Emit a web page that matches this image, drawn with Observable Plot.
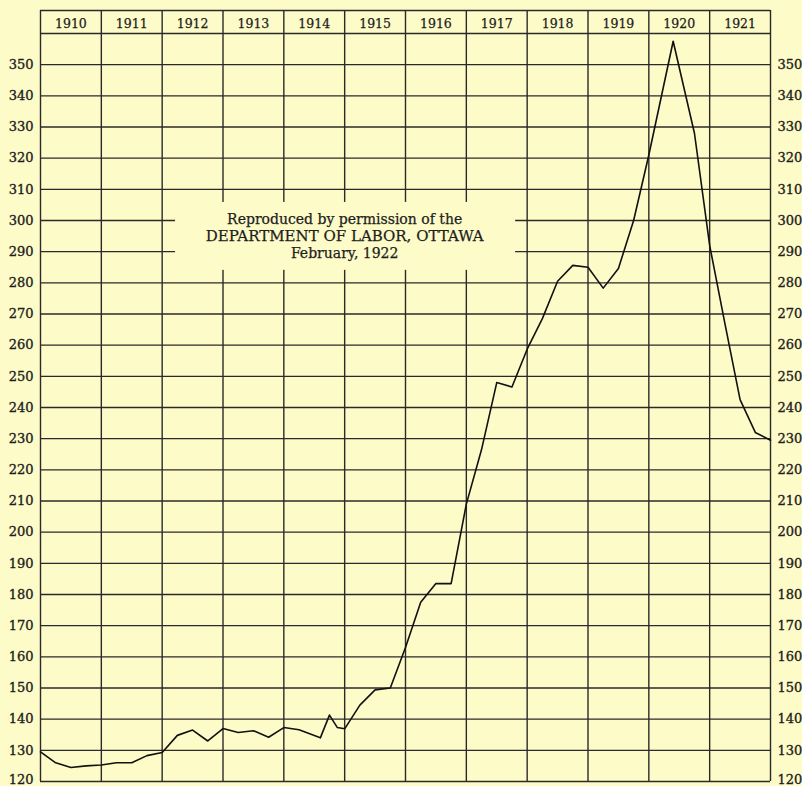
<!DOCTYPE html>
<html>
<head>
<meta charset="utf-8">
<script src="https://cdn.jsdelivr.net/npm/d3@7"></script>
<script src="https://cdn.jsdelivr.net/npm/@observablehq/plot@0.6"></script>
<style>
  html, body { margin: 0; padding: 0; background: #fdfbc8; }
  #chart svg { display: block; }
  #chart svg g[aria-label="y-axis tick label"] text { stroke: #1e1e1e; stroke-width: 0.35px; }
  #chart svg g.note text, #chart svg g.years text { stroke: #1e1e1e; stroke-width: 0.25px; }
</style>
</head>
<body>
<div id="chart"></div>
<script>
// ---- data ----
const periods = [1910, 1910.25, 1910.5, 1910.75, 1911, 1911.25, 1911.5, 1911.75,
  1912, 1912.25, 1912.5, 1912.75, 1913, 1913.25, 1913.5, 1913.75,
  1914, 1914.25, 1914.6, 1914.75, 1914.88, 1915, 1915.25, 1915.5, 1915.75,
  1916, 1916.25, 1916.5, 1916.75, 1917, 1917.25, 1917.5, 1917.75,
  1918, 1918.25, 1918.5, 1918.75, 1919, 1919.25, 1919.5, 1919.75,
  1920, 1920.4, 1920.75, 1921, 1921.25, 1921.5, 1921.75, 1922];
const indexValues = [129.5, 126, 124.5, 125, 125.3, 126, 126, 128.3,
  129.3, 134.8, 136.5, 133, 137, 135.7, 136.3, 134.2,
  137.3, 136.6, 134, 141.3, 137.3, 136.9, 144.5, 149.4, 150,
  163, 177.5, 183.5, 183.5, 209, 226.5, 248, 246.6,
  258.7, 268.5, 280.5, 285.6, 285, 278.3, 284.6, 300,
  321, 357.5, 328, 292, 267, 242.5, 232, 229.5];
const yearLabels = [1910, 1911, 1912, 1913, 1914, 1915, 1916, 1917, 1918, 1919, 1920, 1921];
const yearBounds = [1910, 1911, 1912, 1913, 1914, 1915, 1916, 1917, 1918, 1919, 1920, 1921, 1922];
const yTickLabels = [120, 130, 140, 150, 160, 170, 180, 190, 200, 210, 220, 230, 240,
  250, 260, 270, 280, 290, 300, 310, 320, 330, 340, 350];
const noteLines = ["Reproduced by permission of the", "DEPARTMENT OF LABOR, OTTAWA", "February, 1922"];

// ---- layout ----
const W = 802, H = 786;
const mTop = 33, mBottom = 5, mLeft = 40, mRight = 32;
const yMin = 120, yMax = 360;
const pxPerUnit = (H - mTop - mBottom) / (yMax - yMin);
const headerTop = yMax + (mTop - 10) / pxPerUnit;      // header band top border
const headerMid = yMax + (mTop - 23.5) / pxPerUnit;    // header label centre
const bg = "#fdfbc8";
const ink = "#1e1e1e";
const grid = "#2a2a2a";

const series = periods.map((p, i) => ({period: p, value: indexValues[i]}));
const gridRows = yTickLabels.concat([yMax, headerTop]);
const noteStyle = [
  {y: 300.3, fontSize: 14, letterSpacing: 0.6},
  {y: 295.0, fontSize: 15, letterSpacing: 1.6},
  {y: 289.3, fontSize: 14, letterSpacing: 0.6}
];

const axisOpts = {tickSize: 0, tickPadding: 7, label: null, fontSize: 13, fill: ink, tickFormat: d => String(d)};
const upperTicks = yTickLabels.filter(d => d > yMin);
const bottomTick = yTickLabels.filter(d => d === yMin);

const chart = Plot.plot({
  width: W,
  height: H,
  marginTop: mTop,
  marginBottom: mBottom,
  marginLeft: mLeft,
  marginRight: mRight,
  style: {background: bg, fontFamily: "DejaVu Serif", fontSize: "13px", color: ink},
  x: {domain: [1910, 1922], axis: null},
  y: {domain: [yMin, yMax], axis: null},
  marks: [
    Plot.axisY(upperTicks, {anchor: "left", ...axisOpts}),
    Plot.axisY(upperTicks, {anchor: "right", ...axisOpts}),
    Plot.axisY(bottomTick, {anchor: "left", dy: -2, ...axisOpts}),
    Plot.axisY(bottomTick, {anchor: "right", dy: -2, ...axisOpts}),
    // horizontal rules
    Plot.ruleY(gridRows, {x1: 1910, x2: 1922, stroke: grid, strokeWidth: 1.4}),
    // vertical year boundaries, running up through the header band
    Plot.ruleX(yearBounds, {y1: yMin, y2: headerTop, stroke: grid, strokeWidth: 1.4}),
    // note panel blanking the grid
    Plot.rect([0], {x1: 1912.22, x2: 1917.81, y1: 284, y2: 305.8, fill: bg}),
    ...noteLines.map((line, i) => Plot.text([line], {
      x: 1915.0, y: noteStyle[i].y, text: d => d,
      fontSize: noteStyle[i].fontSize, letterSpacing: noteStyle[i].letterSpacing,
      fontFamily: "DejaVu Serif", fill: ink, textAnchor: "middle", className: "note"
    })),
    // year header labels
    Plot.text(yearLabels, {x: d => d + 0.5, y: headerMid, text: d => String(d),
      fontSize: 12.5, fontFamily: "DejaVu Serif", fill: ink, className: "years"}),
    // the index line
    Plot.line(series, {x: "period", y: "value", stroke: "#111", strokeWidth: 1.6, strokeLinejoin: "round"})
  ]
});
document.getElementById("chart").append(chart);
</script>
</body>
</html>
